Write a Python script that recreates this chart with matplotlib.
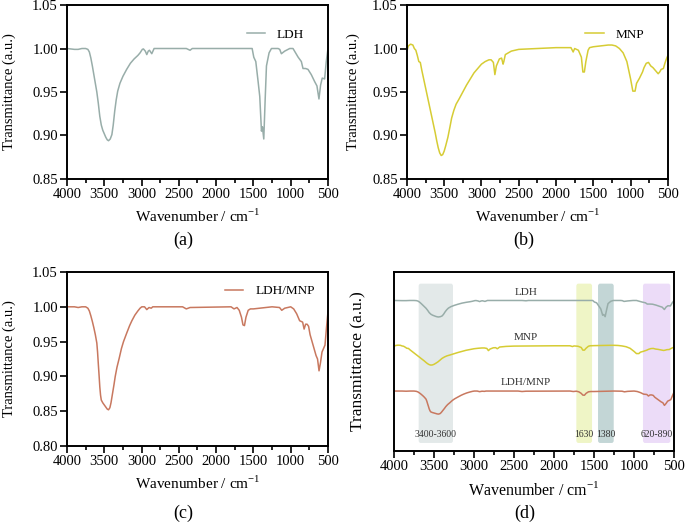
import matplotlib
matplotlib.use("Agg")
from matplotlib import pyplot as plt
from matplotlib.patches import FancyBboxPatch

plt.rcParams['font.family'] = ['Liberation Serif', 'DejaVu Serif']
plt.rcParams['mathtext.fontset'] = 'custom'
plt.rcParams['mathtext.rm'] = 'Liberation Serif'

# wavenumber (cm-1) and transmittance
ldh_x = [4000, 3900, 3850, 3800, 3750, 3720, 3700, 3680, 3660, 3640, 3620, 3600, 3580, 3560,
         3540, 3520, 3500, 3480, 3460, 3443, 3420, 3398, 3380, 3360, 3340, 3320, 3290, 3250,
         3200, 3150, 3100, 3050, 3020, 2990, 2975, 2950, 2930, 2910, 2894, 2863, 2832, 2700,
         2400, 2350, 2320, 2000, 1700, 1517, 1495, 1468, 1437, 1415, 1392, 1379, 1361, 1343,
         1325, 1290, 1258, 1169, 1147, 1125, 1080, 1013, 969, 900, 857, 835, 800, 768, 724,
         679, 648, 621, 599, 577, 545, 523, 500]
ldh_y = [1.000, 0.999, 0.999, 1.000, 1.000, 0.999, 0.996, 0.989, 0.980, 0.970, 0.960, 0.950,
         0.937, 0.922, 0.912, 0.906, 0.902, 0.898, 0.895, 0.894, 0.896, 0.901, 0.912, 0.928,
         0.941, 0.951, 0.960, 0.968, 0.976, 0.983, 0.988, 0.992, 0.995, 0.999, 0.9995, 0.997,
         0.993, 0.997, 0.998, 0.994, 1.000, 1.000, 1.000, 0.998, 1.000, 1.000, 1.000, 1.000,
         0.990, 0.985, 0.962, 0.945, 0.905, 0.910, 0.896, 0.940, 0.980, 0.995, 1.000, 1.000,
         0.999, 0.994, 0.997, 1.000, 1.000, 0.990, 0.985, 0.977, 0.977, 0.976, 0.970, 0.962,
         0.957, 0.942, 0.958, 0.966, 0.965, 0.985, 1.000]

mnp_x = [4000, 3980, 3950, 3920, 3900, 3880, 3860, 3840, 3820, 3800, 3770, 3740, 3700, 3650,
         3620, 3600, 3580, 3560, 3540, 3520, 3500, 3480, 3450, 3420, 3400, 3370, 3340, 3300,
         3250, 3200, 3150, 3100, 3050, 3000, 2950, 2900, 2870, 2840, 2820, 2800, 2760, 2730,
         2710, 2700, 2680, 2600, 2500, 2000, 1800, 1770, 1750, 1700, 1660, 1640, 1620, 1600,
         1570, 1550, 1500, 1300, 1250, 1200, 1150, 1100, 1050, 1000, 970, 940, 920, 880, 840,
         820, 790, 760, 730, 700, 660, 630, 610, 590, 560, 540, 520, 500]
mnp_y = [0.997, 1.003, 1.005, 1.004, 1.000, 0.998, 0.992, 0.985, 0.984, 0.975, 0.963, 0.951,
         0.935, 0.915, 0.903, 0.894, 0.886, 0.880, 0.877, 0.878, 0.882, 0.888, 0.898, 0.911,
         0.920, 0.929, 0.936, 0.942, 0.950, 0.958, 0.965, 0.972, 0.977, 0.982, 0.985, 0.987,
         0.987, 0.984, 0.970, 0.980, 0.988, 0.989, 0.982, 0.985, 0.993, 0.997, 0.999, 1.001,
         1.001, 0.996, 1.000, 0.998, 0.990, 0.973, 0.973, 0.985, 0.998, 1.001, 1.002, 1.004,
         1.004, 1.003, 1.000, 0.995, 0.985, 0.965, 0.951, 0.951, 0.960, 0.966, 0.973, 0.978,
         0.983, 0.984, 0.980, 0.978, 0.974, 0.971, 0.973, 0.976, 0.977, 0.983, 0.988, 0.992]

mix_x = [4000, 3900, 3850, 3800, 3750, 3720, 3700, 3680, 3660, 3640, 3620, 3600, 3590, 3580,
         3570, 3560, 3550, 3540, 3520, 3500, 3480, 3460, 3443, 3425, 3410, 3390, 3370, 3353,
         3330, 3300, 3270, 3242, 3200, 3160, 3130, 3090, 3050, 3020, 2997, 2960, 2930, 2900,
         2870, 2850, 2450, 2400, 2350, 1800, 1760, 1720, 1690, 1660, 1640, 1620, 1600, 1570,
         1540, 1500, 1250, 1150, 1120, 1080, 1000, 960, 920, 880, 840, 820, 800, 780, 760,
         740, 700, 660, 640, 620, 600, 580, 560, 540, 520, 500]
mix_y = [1.000, 1.000, 0.999, 1.000, 1.000, 0.998, 0.994, 0.987, 0.979, 0.970, 0.960, 0.948,
         0.935, 0.918, 0.902, 0.885, 0.873, 0.866, 0.862, 0.859, 0.856, 0.853, 0.852, 0.855,
         0.862, 0.875, 0.888, 0.900, 0.913, 0.926, 0.940, 0.950, 0.962, 0.973, 0.980, 0.988,
         0.994, 0.998, 1.000, 1.000, 0.996, 0.999, 0.998, 1.000, 1.000, 0.997, 0.999, 1.000,
         0.997, 0.999, 0.995, 0.985, 0.974, 0.973, 0.985, 0.995, 0.997, 0.997, 1.000, 0.999,
         0.995, 0.998, 1.000, 0.997, 0.990, 0.980, 0.978, 0.968, 0.975, 0.975, 0.972, 0.960,
         0.945, 0.930, 0.925, 0.908, 0.920, 0.935, 0.940, 0.945, 0.970, 0.993]

names = ['LDH', 'MNP', 'LDH/MNP']
colors = ['#98ada9', '#d6cc34', '#c8785f']

# panel (d): offsets of the stacked curves and shaded bands
offsets = [0.841, 0.587, 0.335]
band_lo = [3263, 1525, 1254, 546]
band_hi = [3692, 1721, 1450, 888]
band_labels = ['3400-3600', '1630', '1380', '620-890']
band_colors = ['#e3e9e9', '#eff5c6', '#c3d6d6', '#ecdcf8']

fig = plt.figure(figsize=(6.85, 5.22), dpi=100)


def style(ax, ylo, yhi):
    ax.set_xlim(4000, 500)
    ax.set_ylim(ylo, yhi)
    ax.set_xticks([4000, 3500, 3000, 2500, 2000, 1500, 1000, 500])
    ax.set_xticks([3750, 3250, 2750, 2250, 1750, 1250, 750], minor=True)
    for s in ax.spines.values():
        s.set_linewidth(1.4)
    ax.tick_params(which='major', direction='out', length=5, width=1.2, labelsize=10.5, pad=1.5)
    ax.tick_params(which='minor', direction='out', length=3, width=1.2)
    ax.set_xlabel('Wavenumber / cm$^{-1}$', fontsize=11, labelpad=5)
    ax.set_ylabel('Transmittance (a.u.)', fontsize=10.5, labelpad=12)


panels = [
    ([0.0978, 0.6571, 0.381, 0.3333], ldh_x, ldh_y, 0, 0.85, 1.05, '(a)', 0.267, 0.540, 1.4),
    ([0.594, 0.6571, 0.381, 0.3333], mnp_x, mnp_y, 1, 0.85, 1.05, '(b)', 0.764, 0.540, 1.4),
    ([0.0978, 0.1456, 0.381, 0.3333], mix_x, mix_y, 2, 0.80, 1.05, '(c)', 0.267, 0.017, 0.6),
]

for pos, xs, ys, i, ylo, yhi, tag, tx, ty, bpad in panels:
    ax = fig.add_axes(pos)
    ax.plot(xs, ys, color=colors[i], lw=1.1, label=names[i])
    style(ax, ylo, yhi)
    if i == 1:
        ax.yaxis.labelpad = 9
    ax.set_yticks([v / 100 for v in range(int(round(ylo * 100)), int(round(yhi * 100)) + 1, 5)])
    ax.yaxis.set_major_formatter(plt.FormatStrFormatter('%.2f'))
    ax.legend(loc='upper right', frameon=False, fontsize=9.5, handlelength=1.4,
              handletextpad=0.9, borderaxespad=bpad)
    fig.text(tx, ty, tag, fontsize=13, ha='center', va='center')

# panel (d)
axd = fig.add_axes([0.5752, 0.136, 0.4088, 0.3429])
for lo, hi, lab, c in zip(band_lo, band_hi, band_labels, band_colors):
    axd.add_patch(FancyBboxPatch((lo, 0.045), hi - lo, 0.89,
                                 boxstyle='round,pad=0,rounding_size=25',
                                 mutation_aspect=0.89 / 3500 * 2.2,
                                 fc=c, ec='none', zorder=0))
    axd.text((lo + hi) / 2, 0.093, lab, fontsize=7, ha='center', va='center', color='#333333')

data = [(ldh_x, ldh_y), (mnp_x, mnp_y), (mix_x, mix_y)]
for (xs, ys), off, c, n in zip(data, offsets, colors, names):
    axd.plot(xs, [off + 0.87 * (v - 1) for v in ys], color=c, lw=1.1)
    axd.text(2350, off + 0.02, n, fontsize=8, ha='center', va='bottom', color='#333333')

style(axd, 0, 1)
axd.set_yticks([])
axd.set_xlabel('Wavenumber / cm$^{-1}$', fontsize=11.5, labelpad=6)
axd.set_ylabel('Transmittance (a.u.)', fontsize=12.5, labelpad=20)
fig.text(0.766, 0.017, '(d)', fontsize=13, ha='center', va='center')

fig.savefig('out.png', dpi=100)
